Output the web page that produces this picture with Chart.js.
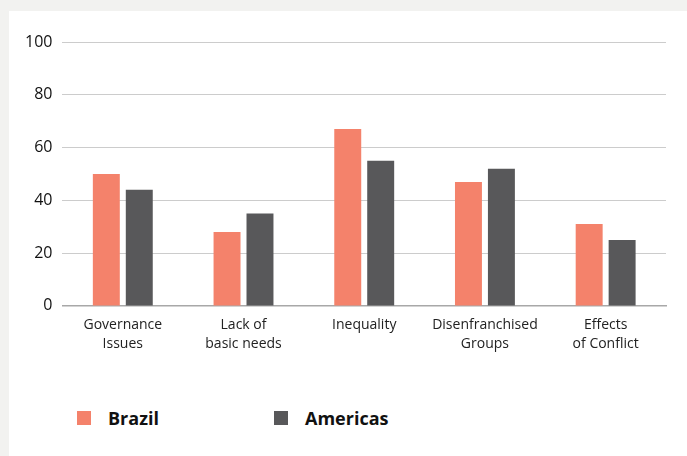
<!DOCTYPE html>
<html>
<head>
<meta charset="utf-8">
<script src="https://cdn.jsdelivr.net/npm/chart.js@4"></script>
<style>
  html, body { margin: 0; padding: 0; background: #f2f2f0; width: 687px; height: 456px; overflow: hidden; }
  .card { position: absolute; left: 9px; top: 11px; width: 678px; height: 445px; background: #fff; }
  .chart-box { position: absolute; left: 0; top: 0; width: 678px; height: 353px; }
  .legend { position: absolute; top: 395px; left: 0; font-family: "Open Sans", sans-serif; font-weight: bold; font-size: 18px; color: #111; }
  .legend span.item { position: absolute; white-space: nowrap; line-height: 24px; }
  .legend i { position: absolute; top: 5px; width: 14px; height: 14px; }
</style>
</head>
<body>
<div class="card">
  <div class="chart-box"><canvas id="issuesChart"></canvas></div>
  <div class="legend" id="legend"></div>
</div>
<script>
const categories = [
  ['Governance', 'Issues'],
  ['Lack of', 'basic needs'],
  ['Inequality'],
  ['Disenfranchised', 'Groups'],
  ['Effects', 'of Conflict']
];
const brazilValues = [50, 28, 67, 47, 31];
const americasValues = [44, 35, 55, 52, 25];
const seriesNames = ['Brazil', 'Americas'];
const seriesColors = ['#f4826b', '#58585a'];
const yTicks = [0, 20, 40, 60, 80, 100];

const ctx = document.getElementById('issuesChart');
const chart = new Chart(ctx.getContext('2d'), {
  type: 'bar',
  data: {
    labels: categories,
    datasets: [
      { label: seriesNames[0], data: brazilValues, backgroundColor: seriesColors[0] },
      { label: seriesNames[1], data: americasValues, backgroundColor: seriesColors[1] }
    ]
  },
  options: {
    responsive: true,
    maintainAspectRatio: false,
    animation: false,
    categoryPercentage: 0.546,
    barPercentage: 0.818,
    layout: { padding: { left: 6, right: 21, top: 31, bottom: 0 } },
    plugins: {
      legend: { display: false },
      tooltip: { enabled: false }
    },
    scales: {
      x: {
        grid: { display: false, drawTicks: false },
        border: { color: '#a8a8a8', width: 1.5 },
        ticks: {
          color: '#222',
          padding: 10,
          font: { family: 'Open Sans', size: 14, lineHeight: 1.36 },
          maxRotation: 0
        }
      },
      y: {
        min: 0,
        max: 100,
        afterBuildTicks: axis => { axis.ticks = yTicks.map(v => ({ value: v })); },
        grid: { color: '#cccccc', drawTicks: false },
        border: { display: false },
        ticks: {
          color: '#111',
          padding: 10,
          font: { family: 'Open Sans', size: 16 }
        }
      }
    }
  }
});

// legend under the chart
const legend = document.getElementById('legend');
const legendX = [68, 265];
seriesNames.forEach((name, i) => {
  const item = document.createElement('span');
  item.className = 'item';
  item.style.left = legendX[i] + 'px';
  item.innerHTML = '<i style="left:0;background:' + seriesColors[i] + '"></i><span style="margin-left:31px">' + name + '</span>';
  legend.appendChild(item);
});
</script>
</body>
</html>
